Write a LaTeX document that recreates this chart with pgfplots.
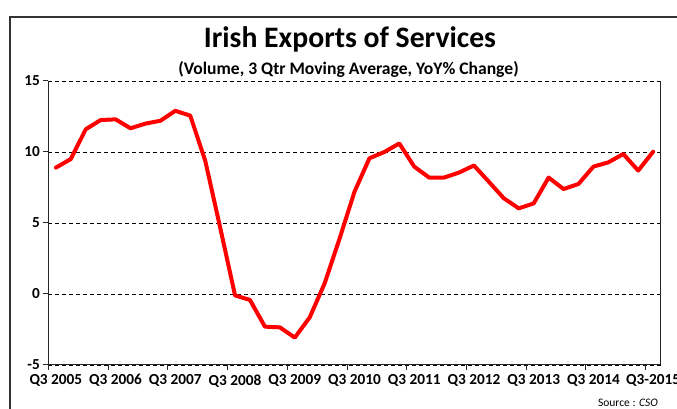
\documentclass[border=0pt]{standalone}
\usepackage{pgfplots}
\pgfplotsset{compat=1.18}
\usepackage{fontspec}
\setmainfont{Carlito}
\begin{document}
\begin{tikzpicture}[x=1pt,y=1pt]
\path[use as bounding box] (0,0) rectangle (677,409);
\draw[line width=1.2pt, black!80] (10,-20) -- (10,392) -- (700,392);
\begin{axis}[at={(48.4pt,44pt)}, anchor=south west, scale only axis,
  width=612.2pt, height=284pt,
  xmin=-0.5, xmax=40.5, ymin=-5, ymax=15,
  ytick={-5,0,5,10,15},
  xtick={0,4,...,40},
  xticklabels={Q3 2005,Q3 2006,Q3 2007,Q3 2008,Q3 2009,Q3 2010,Q3 2011,Q3 2012,Q3 2013,Q3 2014,Q3-2015},
  minor xtick={-0.5,3.5,...,39.5},
  major x tick style={draw=none},
  minor x tick style={black!85, line width=1pt},
  y tick style={black!85, line width=1pt},
  tick align=outside,
  major tick length=5pt, minor tick length=5pt,
  xtick pos=bottom, ytick pos=left,
  axis line style={draw=none},
  ymajorgrids,
  grid style={black, dash pattern=on 4pt off 3pt, line width=0.8pt},
  /pgf/number format/assume math mode=true,
  tick label style={font=\bfseries\fontsize{15.3}{17}\selectfont},
  xticklabel style={yshift=-1pt},
  clip=false,
]
\draw[black!85, line width=1pt] (rel axis cs:0,1) -- (rel axis cs:0,0) -- (rel axis cs:1,0) -- (rel axis cs:1,1);
\addplot[red, line width=4pt, line join=round, line cap=round] coordinates {
(0,8.9) (1,9.5) (2,11.6) (3,12.25) (4,12.3) (5,11.67) (6,12.0) (7,12.2) (8,12.9) (9,12.56)
(10,9.4) (11,4.7) (12,-0.1) (13,-0.42) (14,-2.3) (15,-2.35) (16,-3.07) (17,-1.65) (18,0.75) (19,3.9)
(20,7.2) (21,9.56) (22,10.0) (23,10.6) (24,8.97) (25,8.2) (26,8.2) (27,8.55) (28,9.05) (29,7.9)
(30,6.74) (31,6.03) (32,6.38) (33,8.2) (34,7.39) (35,7.75) (36,8.97) (37,9.27) (38,9.86) (39,8.69)
(40,10.02)};
\end{axis}
\node[font=\bfseries\fontsize{29.7}{32}\selectfont, anchor=base] at (350,361.5) {Irish Exports of Services};
\node[font=\bfseries\fontsize{17.6}{19}\selectfont, anchor=base] at (348.5,334.5) {(Volume, 3 Qtr Moving Average, YoY\% Change)};
\node[font=\fontsize{11.5}{12}\selectfont, anchor=base east, inner sep=0pt] at (658,2.5) {Source : \textit{CSO}};
\end{tikzpicture}
\end{document}
